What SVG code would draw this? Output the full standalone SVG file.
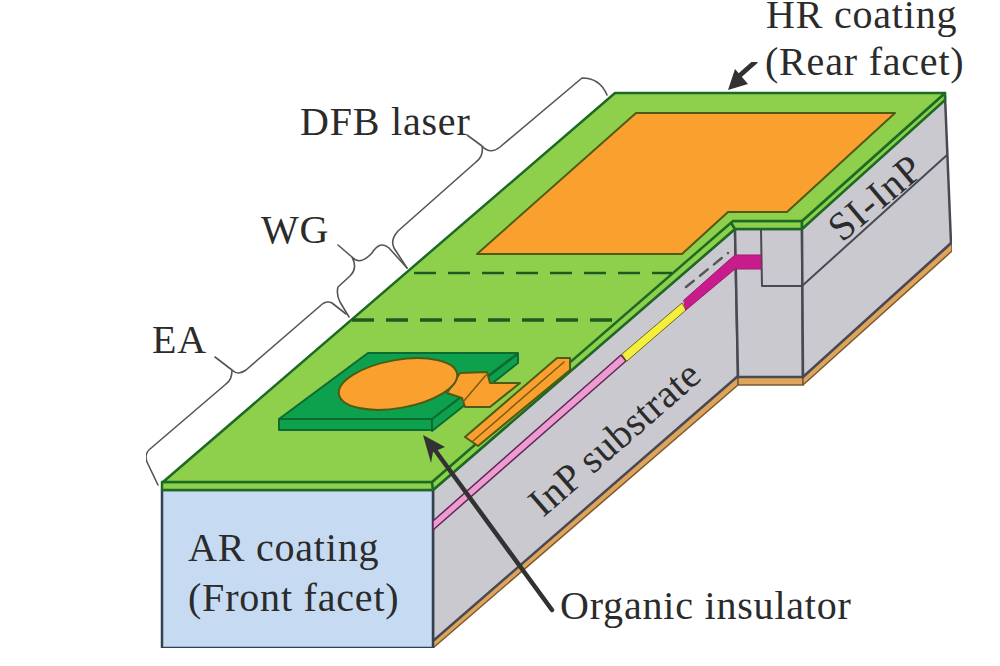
<svg xmlns="http://www.w3.org/2000/svg" width="1000" height="666" viewBox="0 0 1000 666">
<defs><filter id="soft" x="0" y="0" width="100%" height="100%"><feGaussianBlur stdDeviation="0.6"/></filter></defs>
<style>
.t{font-family:"Liberation Serif","Times New Roman",serif;font-size:40px;letter-spacing:.8px;fill:#2b2b2b}
.ln{stroke-linejoin:round;stroke-linecap:round}
.g{fill:#8ed04c;stroke:#1f6a25;stroke-width:2.5}
.o{fill:#f9a02e;stroke:#4f5a14;stroke-width:2}
.s{fill:#c9c9cf;stroke:#4a4a52;stroke-width:2.5}
.b{fill:#dfa45c;stroke:#7a5a30;stroke-width:1.5}
.d{fill:#0fa04e;stroke:#0f6a30;stroke-width:2}
.br{fill:none;stroke:#555;stroke-width:1.6}
.dash{fill:none;stroke:#1f5a22;stroke-dasharray:22 12}
</style>
<rect width="1000" height="666" fill="#fff"/>
<g filter="url(#soft)">
<g id="chip" class="ln">
<path class="b" d="M433 640L738 375V385L433 648Z"/>
<path class="b" d="M738 375H803V385H738Z"/>
<path class="b" d="M803 377L952 243V251L803 385Z"/>
<path class="s" d="M433 490L735 229L738 376L433 641Z"/>
<path class="s" d="M735 229H802L803 377H738Z"/>
<path class="s" d="M802 229L945 96L951 243L803 377Z"/>
<path fill="none" stroke="#4a4a52" stroke-width="2" d="M761 230L762 286H802L947 155"/>
<rect x="162" y="490" width="271" height="158" fill="#c6dbf2" stroke="#33404f" stroke-width="2.5"/>
<path class="g" d="M162 482H433V490H162Z"/>
<path class="g" d="M432 482L730 221L735 229L433 490Z"/>
<path class="g" d="M730 221H802V229H735Z"/>
<path class="g" d="M802 221L945 93L945 100L802 229Z"/>
<path class="g" d="M163 482L615 93H945L802 221H733L432 482Z"/>
<path class="o" stroke-width="3" d="M636 113H895L787 212H728L682 254H477Z"/>
</g>
<g id="layers" class="ln">
<path fill="#f09ad2" stroke="#5a2a55" stroke-width="1.5" d="M433 521L621 355L626 361L433 530Z"/>
<path fill="#f4ee3c" stroke="#6a6a20" stroke-width="1" d="M622 354L682 303L686 310L627 361Z"/>
<path fill="#c81f8c" stroke="#a01870" stroke-width="1" d="M684 300L728 261L735 255H761V269H735L686 310Z"/>
<path fill="none" stroke="#55555c" stroke-width="2.5" stroke-dasharray="10 8" d="M686 287L728 253"/>
</g>
<g id="dashes">
<path class="dash" stroke-width="2.5" d="M414 273H672"/>
<path class="dash" stroke-width="3.5" d="M352 320H613"/>
</g>
<g id="ea-pad" class="ln">
<path class="o" stroke-width="1.5" d="M465 437L557 358H570V370L478 446Z"/>
<path fill="none" stroke="#7a5a14" stroke-width="1.5" d="M473 441L564 362"/>
<path class="d" d="M279 419H432V430H279Z"/>
<path class="d" d="M432 419L518 354V363L432 431Z"/>
<path class="d" d="M368 353H518L432 419H279Z"/>
<path class="o" stroke-width="1.5" d="M460 373L487 372L490 383H520L490 407H465L462 398L447 393Z"/>
<path fill="none" stroke="#7a5a14" stroke-width="1.5" d="M486 375L463 402"/>
<ellipse class="o" cx="398" cy="384" rx="60" ry="24" transform="rotate(-10 398 384)"/>
</g>
<g id="connectors" class="ln">
<path class="br" d="M607 95Q600 78 582 78L500 147Q490 155 482 146L467 135M482 146Q484 156 476 162L398 231Q390 240 394 248L407 268"/>
<path class="br" d="M407 268L389 248Q380 240 372 253Q360 266 352 257L338 245M352 257Q358 268 350 276L338 287Q336 294 340 302L349 317"/>
<path class="br" d="M346 314L332 303Q326 300 320 306L246 370Q238 376 232 370L215 357M232 370Q232 380 226 384L150 449Q144 454 147 462L158 485"/>
<path fill="none" stroke="#333" stroke-width="4.5" d="M552 610L432 446"/>
<path fill="#333" d="M423 435L445 447L433 452L431 463Z"/>
<path fill="none" stroke="#333" stroke-width="5" d="M755 62L738 77"/>
<path fill="#333" d="M728 90L735 69L748 84Z"/>
</g>
</g>
<g id="labels">
<text class="t" x="766" y="28">HR coating</text>
<text class="t" x="765" y="75">(Rear facet)</text>
<text class="t" x="300" y="135">DFB laser</text>
<text class="t" x="261" y="243">WG</text>
<text class="t" x="152" y="353">EA</text>
<text class="t" x="188" y="561">AR coating</text>
<text class="t" x="188" y="611">(Front facet)</text>
<text class="t" x="560" y="619">Organic insulator</text>
<text class="t" transform="translate(543 518) rotate(-41)" style="letter-spacing:.5px">InP substrate</text>
<text class="t" transform="translate(842 243) rotate(-40)">SI-InP</text>
</g>
</svg>
